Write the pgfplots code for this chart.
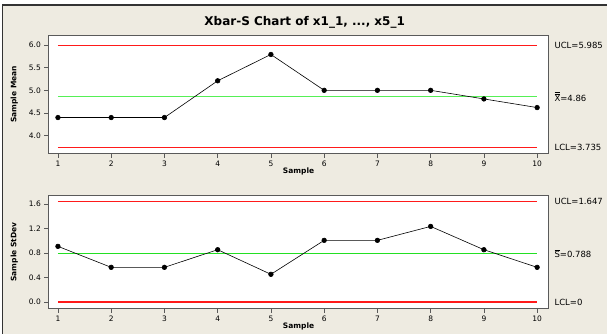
\documentclass[border=0pt]{standalone}
\usepackage{fontspec}
\setmainfont{DejaVu Sans}
\usepackage{pgfplots}
\pgfplotsset{compat=1.18}
\definecolor{bg}{HTML}{EEEBE1}
\definecolor{uclred}{HTML}{FF1A1A}
\definecolor{clA}{HTML}{55F055}
\definecolor{clB}{HTML}{22E022}
\definecolor{framegray}{HTML}{5A5A5A}
\tikzset{
  rlab/.style={anchor=west, inner sep=0pt, xshift=5.5pt, font=\fontsize{8.5}{9}\selectfont}
}
\pgfplotsset{ctl/.style={
  scale only axis, width=501pt,
  xmin=0.82, xmax=10.22, xtick={1,...,10},
  tick align=outside, xtick pos=bottom, ytick pos=left,
  axis line style={framegray, line width=0.9pt},
  major tick length=4pt, tick style={framegray, line width=0.6pt},
  axis background/.style={fill=white},
  /pgf/number format/assume math mode=true,
  ticklabel style={font=\fontsize{7.5}{9}\selectfont},
  yticklabel style={/pgf/number format/.cd, fixed, fixed zerofill, precision=1},
  xlabel=Sample,
  xlabel style={font=\bfseries\fontsize{7.5}{9}\selectfont, at={(axis description cs:0.5,0)}, anchor=center, yshift=-18pt},
  ylabel style={font=\bfseries\fontsize{7.5}{9}\selectfont, at={(axis description cs:-0.068,0.5)}, anchor=center},
  clip=false
}}
\begin{document}
\begin{tikzpicture}[x=1pt,y=1pt]
\fill[white] (0,0) rectangle (608,334);
\fill[bg] (2.5,0) rectangle (608,329);
\draw[black!80, line width=1.2pt] (2.5,0) -- (2.5,329) -- (608,329);
\node[font=\bfseries\fontsize{12}{14}\selectfont] at (305,312) {Xbar-S Chart of x1\_1, ..., x5\_1};

\begin{axis}[ctl, at={(48.4pt,180pt)}, anchor=south west, height=119pt,
  ymin=3.60, ymax=6.22, ytick={4.0,4.5,5.0,5.5,6.0}, ylabel={Sample Mean}]
\addplot[draw=uclred, line width=1.1pt, mark=none] coordinates {(1,5.985) (10,5.985)};
\addplot[draw=uclred, line width=1.1pt, mark=none] coordinates {(1,3.735) (10,3.735)};
\addplot[draw=clA, line width=1.6pt, mark=none] coordinates {(1,4.86) (10,4.86)};
\addplot[draw=black, line width=0.6pt, mark=*, mark size=2.3pt, mark options={fill=black}] coordinates {(1,4.40) (2,4.40) (3,4.40) (4,5.21) (5,5.79) (6,5.00) (7,5.00) (8,5.00) (9,4.81) (10,4.62)};
\node[rlab] at (axis cs:10.22,5.985) {UCL=5.985};
\node[rlab] at (axis cs:10.22,4.86) {$\overline{\overline{\mbox{X}}}$=4.86};
\node[rlab] at (axis cs:10.22,3.735) {LCL=3.735};
\end{axis}

\begin{axis}[ctl, at={(48.4pt,25pt)}, anchor=south west, height=113.3pt,
  ymin=-0.11, ymax=1.74, ytick={0,0.4,0.8,1.2,1.6}, ylabel={Sample StDev}]
\addplot[draw=uclred, line width=1.1pt, mark=none] coordinates {(1,1.647) (10,1.647)};
\addplot[draw=uclred, line width=1.1pt, mark=none] coordinates {(1,0) (10,0)};
\addplot[draw=clB, line width=1.1pt, mark=none] coordinates {(1,0.788) (10,0.788)};
\addplot[draw=black, line width=0.6pt, mark=*, mark size=2.3pt, mark options={fill=black}] coordinates {(1,0.909) (2,0.566) (3,0.566) (4,0.854) (5,0.452) (6,1.007) (7,1.007) (8,1.235) (9,0.854) (10,0.566)};
\node[rlab] at (axis cs:10.22,1.647) {UCL=1.647};
\node[rlab] at (axis cs:10.22,0.788) {$\overline{\mbox{S}}$=0.788};
\node[rlab] at (axis cs:10.22,0) {LCL=0};
\end{axis}
\end{tikzpicture}
\end{document}
